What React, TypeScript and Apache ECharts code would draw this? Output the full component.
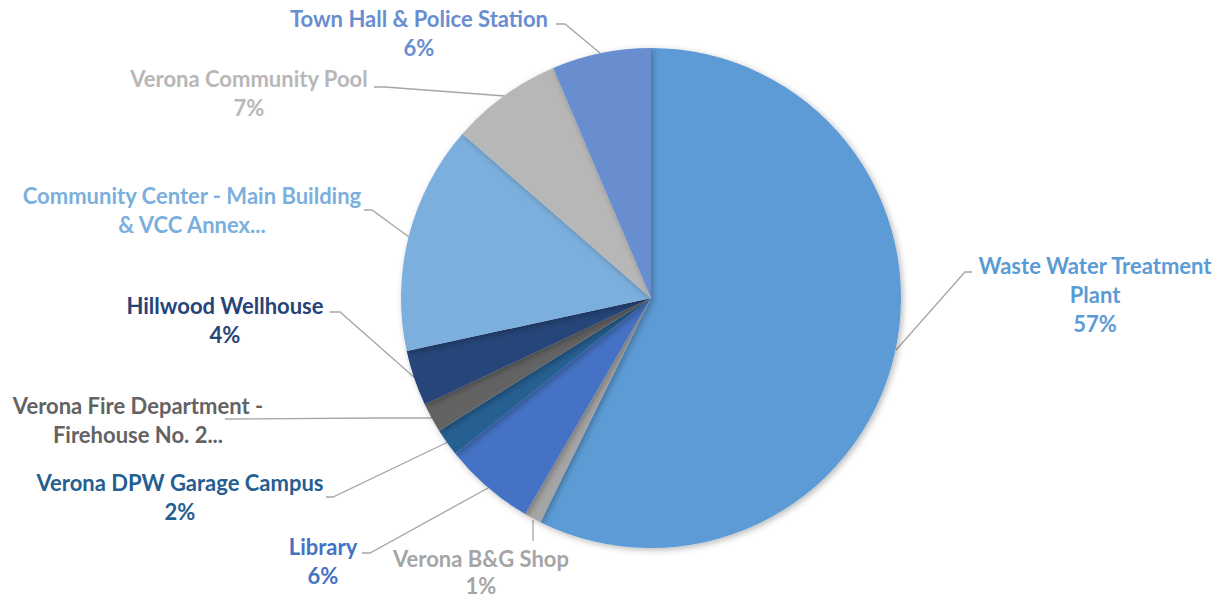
import React, { useEffect, useRef } from "react";
import * as echarts from "echarts";

// Categories as displayed (clockwise from 12 o'clock)
const categories = [
  "Waste Water Treatment\nPlant",
  "Verona B&G Shop",
  "Library",
  "Verona DPW Garage Campus",
  "Verona Fire Department -\nFirehouse No. 2...",
  "Hillwood Wellhouse",
  "Community Center - Main Building\n& VCC Annex...",
  "Verona Community Pool",
  "Town Hall & Police Station",
];

// Share of total (%)
const values = [57.3, 1.1, 5.9, 1.8, 1.9, 3.6, 14.8, 7.2, 6.4];

const colors = [
  "#5B9BD5",
  "#A5A5A5",
  "#4472C4",
  "#255E91",
  "#636363",
  "#264478",
  "#7CAFDD",
  "#B7B7B7",
  "#698ED0",
];

// Label placement (label block centre, line height) and leader-line points, in pixels
const labelPos: { x: number; y: number; lh: number; line: number[][] }[] = [
  { x: 1095, y: 294, lh: 29, line: [[896, 350], [965, 272], [972, 272]] },
  { x: 481, y: 572, lh: 27, line: [[533, 520], [533, 540], [533, 541]] },
  { x: 323, y: 561, lh: 29, line: [[488, 488], [370, 553], [362, 553]] },
  { x: 180, y: 497, lh: 29, line: [[448, 442], [333, 497], [326, 497]] },
  { x: 138, y: 420, lh: 29, line: [[432, 418], [380, 418], [225, 419]] },
  { x: 225, y: 320, lh: 29, line: [[415, 378], [340, 312], [330, 312]] },
  { x: 192, y: 210, lh: 29, line: [[409, 237], [372, 210], [364, 210]] },
  { x: 249, y: 93, lh: 29, line: [[505, 96], [385, 87], [374, 87]] },
  { x: 419, y: 33, lh: 29, line: [[600, 53], [565, 24], [556, 24]] },
];

export default function App() {
  const ref = useRef<HTMLDivElement>(null);

  useEffect(() => {
    if (!ref.current) return;
    const chart = echarts.init(ref.current, null, { renderer: "svg" });
    const data = categories.map((name, i) => ({
      name,
      value: values[i],
      itemStyle: { color: colors[i] },
      label: { color: colors[i], lineHeight: labelPos[i].lh },
    }));
    chart.setOption({
      animation: false,
      backgroundColor: "#ffffff",
      series: [
        {
          type: "pie",
          center: [651, 298],
          radius: 250,
          startAngle: 90,
          clockwise: true,
          avoidLabelOverlap: false,
          data,
          itemStyle: {
            borderWidth: 0,
            shadowBlur: 6,
            shadowColor: "rgba(0,0,0,0.28)",
            shadowOffsetX: 2,
            shadowOffsetY: 2,
          },
          label: {
            show: true,
            position: "outside",
            fontFamily: "Lato",
            fontWeight: "bold",
            fontSize: 22,
            lineHeight: 29,
            align: "center",
            formatter: (p: any) => {
              const n: string = p.name;
              if (n.endsWith("...")) return n;
              return `${n}\n${Math.round(p.percent)}%`;
            },
          },
          labelLine: {
            show: true,
            length: 20,
            length2: 10,
            lineStyle: { color: "#A6A6A6", width: 1.3 },
          },
          labelLayout: (params: any) => {
            const lp = labelPos[params.dataIndex];
            if (!lp) return {};
            return {
              x: lp.x,
              y: lp.y,
              align: "center",
              verticalAlign: "middle",
              labelLinePoints: lp.line,
            };
          },
          emphasis: { disabled: true },
        },
      ],
    });
    return () => chart.dispose();
  }, []);

  return (
    <div
      ref={ref}
      style={{ position: "absolute", left: 0, top: 0, width: 1219, height: 600 }}
    />
  );
}
